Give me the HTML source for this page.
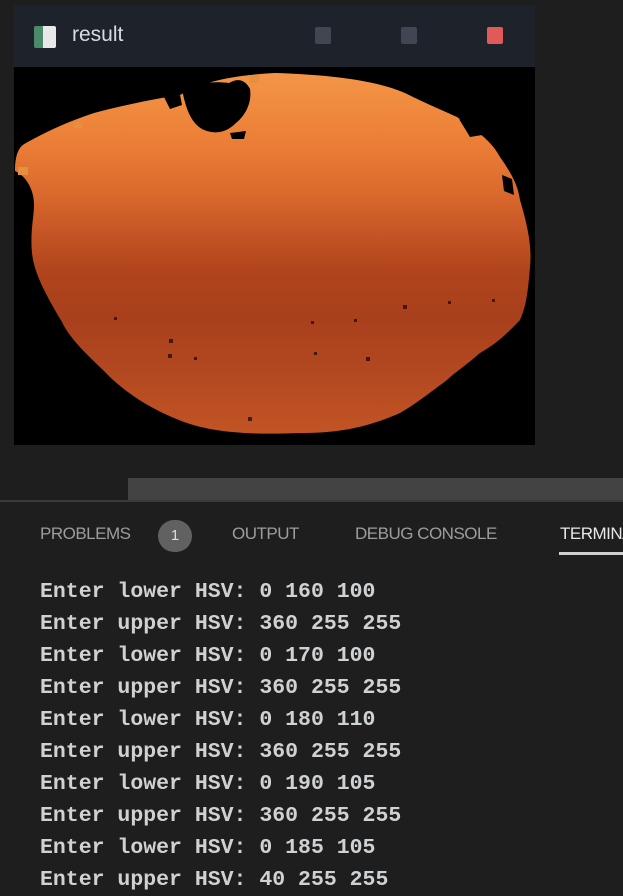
<!DOCTYPE html>
<html><head><meta charset="utf-8"><style>
html,body{margin:0;padding:0;width:623px;height:882px;overflow:hidden;background:#1e1e1e;font-family:"Liberation Sans",sans-serif}
.abs{position:absolute}
.term{position:absolute;left:40px;font-family:"Liberation Mono",monospace;font-size:21.5px;font-weight:bold;color:#cfd2d4;white-space:pre;line-height:32px}
.tab{position:absolute;top:524px;font-size:17px;color:#9d9d9d;letter-spacing:-0.5px}
</style></head><body>
<div class="abs" style="left:14px;top:5px;width:521px;height:440px;background:#000">
  <div class="abs" style="left:0;top:0;width:521px;height:62px;background:#1e232b">
    <div class="abs" style="left:20px;top:21px;width:22px;height:22px;background:linear-gradient(90deg,#4a8a6a 0 40%,#e8e8e8 40%);border-radius:2px"></div>
    <div class="abs" style="left:58px;top:18px;color:#d8dce2;font-size:21px">result</div>
    <div class="abs" style="left:301px;top:22px;width:16px;height:17px;background:#404652;border-radius:2px"></div>
    <div class="abs" style="left:387px;top:22px;width:16px;height:17px;background:#404652;border-radius:2px"></div>
    <div class="abs" style="left:473px;top:22px;width:16px;height:17px;background:#e05a5a;border-radius:2px"></div>
  </div>
  <svg class="abs" style="left:0;top:62px" width="521" height="378">
    <defs>
      <linearGradient id="g" x1="0" y1="0" x2="0" y2="1">
        <stop offset="0" stop-color="#f39546"/>
        <stop offset="0.18" stop-color="#ec8038"/>
        <stop offset="0.32" stop-color="#dc6c2e"/>
        <stop offset="0.45" stop-color="#c45424"/>
        <stop offset="0.55" stop-color="#b0441c"/>
        <stop offset="0.68" stop-color="#a8401c"/>
        <stop offset="0.82" stop-color="#b24820"/>
        <stop offset="1" stop-color="#c25424"/>
      </linearGradient>
    </defs>
    <path d="M1 104 C1 92 3 80 12 76 C30 66 50 56 80 46 C110 38 140 32 166 28 C190 14 220 8 262 6 C320 8 370 14 399 30 C420 40 430 44 443 50 C465 65 478 75 486 90 C500 110 504 120 506 133 C514 160 518 180 516 200 C514 225 512 240 506 253 C490 270 480 278 466 286 C450 300 440 306 433 313 C410 330 400 338 386 346 C350 362 320 366 286 366 C240 368 200 366 170 355 C130 340 105 320 89 303 C70 285 55 270 48 255 C30 225 20 205 18 186 C16 165 20 150 20 138 C20 120 10 108 1 104 Z" fill="url(#g)"/>
    <path d="M168 22 C180 16 200 14 215 16 C225 10 232 14 236 22 C238 35 232 48 222 56 C212 66 200 68 188 62 C178 56 172 44 168 22 Z" fill="#000"/>
    <path d="M150 30 L166 28 L168 38 L156 42 Z M216 66 L232 64 L230 72 L218 72 Z" fill="#000"/>
    <path d="M445 52 L458 56 L468 68 L456 70 Z M488 108 L498 112 L500 128 L490 124 Z" fill="#000"/>
    <g fill="#e49040">
      <rect x="4" y="100" width="10" height="8"/><rect x="60" y="55" width="8" height="6"/><rect x="235" y="8" width="10" height="8"/>
    </g>
    <g fill="#2a0e06" opacity="0.8">
      <rect x="389" y="238" width="4" height="4"/><rect x="155" y="272" width="4" height="4"/><rect x="352" y="290" width="4" height="4"/>
      <rect x="234" y="350" width="4" height="4"/><rect x="154" y="287" width="4" height="4"/><rect x="180" y="290" width="3" height="3"/>
      <rect x="434" y="234" width="3" height="3"/><rect x="478" y="232" width="3" height="3"/><rect x="340" y="252" width="3" height="3"/>
      <rect x="297" y="254" width="3" height="3"/><rect x="100" y="250" width="3" height="3"/><rect x="300" y="285" width="3" height="3"/>
    </g>
  </svg>
</div>
<div class="abs" style="left:128px;top:478px;width:495px;height:22px;background:#434343"></div>
<div class="abs" style="left:0;top:500px;width:623px;height:2px;background:#3a3a3a"></div>
<div class="tab" style="left:40px">PROBLEMS</div>
<div class="abs" style="left:158px;top:520px;width:34px;height:32px;border-radius:16px;background:#616161;color:#ddd;font-size:15px;text-align:center;line-height:32px">1</div>
<div class="tab" style="left:232px">OUTPUT</div>
<div class="tab" style="left:355px">DEBUG CONSOLE</div>
<div class="tab" style="left:560px;color:#e7e7e7">TERMINAL</div>
<div class="abs" style="left:559px;top:552px;width:64px;height:3px;background:#d0d0d0"></div>
<div>
<div class="term" style="top:576px">Enter lower HSV: 0 160 100</div>
<div class="term" style="top:608px">Enter upper HSV: 360 255 255</div>
<div class="term" style="top:640px">Enter lower HSV: 0 170 100</div>
<div class="term" style="top:672px">Enter upper HSV: 360 255 255</div>
<div class="term" style="top:704px">Enter lower HSV: 0 180 110</div>
<div class="term" style="top:736px">Enter upper HSV: 360 255 255</div>
<div class="term" style="top:768px">Enter lower HSV: 0 190 105</div>
<div class="term" style="top:800px">Enter upper HSV: 360 255 255</div>
<div class="term" style="top:832px">Enter lower HSV: 0 185 105</div>
<div class="term" style="top:864px">Enter upper HSV: 40 255 255</div>
</div>
</body></html>
